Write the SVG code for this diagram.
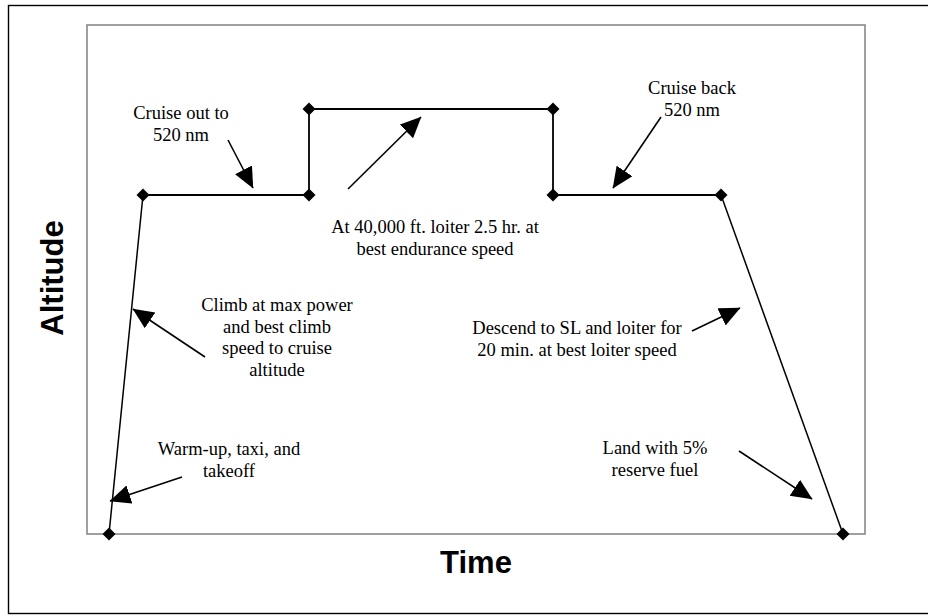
<svg xmlns="http://www.w3.org/2000/svg" width="928" height="615" viewBox="0 0 928 615">
<defs>
<style>
.frame{fill:none;stroke:#000;stroke-width:1.4}
.plot{fill:#fff;stroke:#888;stroke-width:1.6}
.seg{fill:none;stroke:#000;stroke-width:1.8;stroke-linejoin:miter}
.slope{fill:none;stroke:#000;stroke-width:1.5}
.pt{fill:#000}
.lbl{font-family:"Liberation Serif","Times New Roman",serif;font-size:18.5px;fill:#000;text-anchor:middle}
.axis{font-family:"Liberation Sans",Arial,sans-serif;font-size:31px;font-weight:bold;fill:#000;text-anchor:middle}
.arr{fill:none;stroke:#000;stroke-width:1.6;marker-end:url(#ah)}
</style>
<marker id="ah" markerUnits="userSpaceOnUse" viewBox="0 0 22 20" markerWidth="22" markerHeight="20" refX="20.5" refY="9.5" orient="auto">
<path d="M0,0 L21,9.5 L0,19 z" fill="#000"/>
</marker>
<path id="dia" d="M0,-6.5 L6.5,0 L0,6.5 L-6.5,0 z"/>
</defs>
<rect width="928" height="615" fill="#fff"/>
<rect class="frame" x="8.5" y="5.5" width="930" height="608"/>
<rect class="plot" x="87" y="25" width="778" height="509"/>
<text class="axis" x="476" y="573">Time</text>
<text class="axis" transform="translate(63,278) rotate(-90)">Altitude</text>
<g id="profile">
<path class="slope" d="M109,534 L143,195"/>
<path class="seg" d="M143,195 L309,195 L309,109 L553,109 L553,195 L721,195"/>
<path class="slope" d="M721,195 L843,534"/>
</g>
<g id="wp0"><use href="#dia" class="pt" x="109" y="534"/></g>
<g id="wp1"><use href="#dia" class="pt" x="143" y="195"/></g>
<g id="wp2"><use href="#dia" class="pt" x="309" y="195"/></g>
<g id="wp3"><use href="#dia" class="pt" x="309" y="109"/></g>
<g id="wp4"><use href="#dia" class="pt" x="553" y="109"/></g>
<g id="wp5"><use href="#dia" class="pt" x="553" y="195"/></g>
<g id="wp6"><use href="#dia" class="pt" x="721" y="195"/></g>
<g id="wp7"><use href="#dia" class="pt" x="843" y="534"/></g>
<g id="lbl-cruise-out"><text class="lbl" x="181" y="119">Cruise out to</text><text class="lbl" x="181" y="141">520 nm</text></g>
<g id="lbl-loiter"><text class="lbl" x="435" y="233">At 40,000 ft. loiter 2.5 hr. at</text><text class="lbl" x="435" y="255">best endurance speed</text></g>
<g id="lbl-cruise-back"><text class="lbl" x="692" y="94">Cruise back</text><text class="lbl" x="692" y="116">520 nm</text></g>
<g id="lbl-climb"><text class="lbl" x="277" y="311">Climb at max power</text><text class="lbl" x="277" y="333">and best climb</text><text class="lbl" x="277" y="354">speed to cruise</text><text class="lbl" x="277" y="376">altitude</text></g>
<g id="lbl-warmup"><text class="lbl" x="229" y="455">Warm-up, taxi, and</text><text class="lbl" x="229" y="477">takeoff</text></g>
<g id="lbl-descend"><text class="lbl" x="577" y="334">Descend to SL and loiter for</text><text class="lbl" x="577" y="356">20 min. at best loiter speed</text></g>
<g id="lbl-land"><text class="lbl" x="655" y="454">Land with 5%</text><text class="lbl" x="655" y="476">reserve fuel</text></g>
<g id="connectors">
<line class="arr" x1="228" y1="140" x2="253" y2="188"/>
<line class="arr" x1="348" y1="189" x2="421" y2="117"/>
<line class="arr" x1="661" y1="117" x2="613" y2="188"/>
<line class="arr" x1="205" y1="357" x2="133" y2="309"/>
<line class="arr" x1="182" y1="477" x2="110" y2="501"/>
<line class="arr" x1="692" y1="331" x2="740" y2="308"/>
<line class="arr" x1="739" y1="451" x2="812" y2="499"/>
</g>
</svg>
